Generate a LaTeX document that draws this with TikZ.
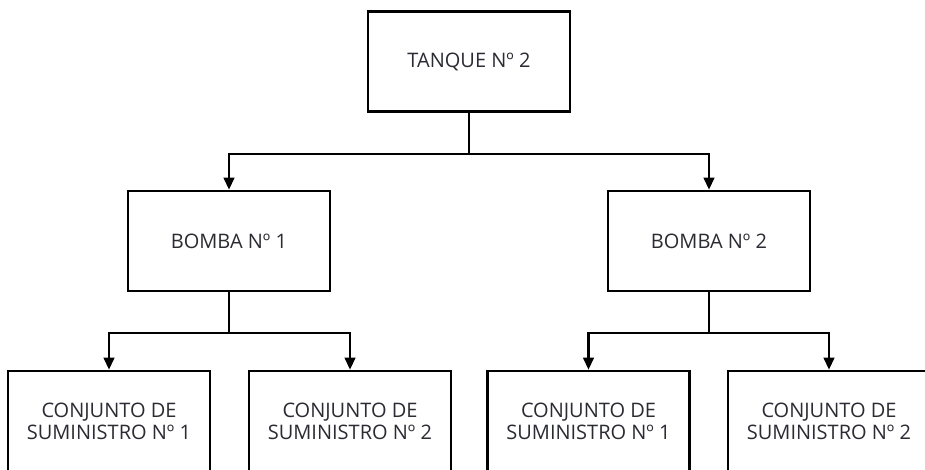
\documentclass[tikz,border=0pt]{standalone}
\usepackage{fontspec}
\setmainfont{Open Sans}
\usetikzlibrary{arrows.meta}
\definecolor{txt}{HTML}{2B2B33}
\tikzset{
  box/.style={draw=black, line width=2pt, fill=white, align=center, inner sep=0pt,
    minimum width=151.5pt, minimum height=75pt, font=\fontsize{15pt}{16.5pt}\selectfont, text=txt},
  conn/.style={draw=black, line width=1.6pt},
  arr/.style={conn, -{Triangle[width=8pt,length=9pt]}}
}
\begin{document}
\begin{tikzpicture}[x=0.75pt,y=-0.75pt]
\useasboundingbox (0,0) rectangle (925,470);
\clip (0,0) rectangle (925,470);
\fill[white] (0,0) rectangle (925,470);
\node[box] (top) at (469,61.5) {TANQUE Nº 2};
\node[box] (b1) at (229,241) {BOMBA Nº 1};
\node[box] (b2) at (709,241) {BOMBA Nº 2};
\node[box] (c1) at (109,421) {CONJUNTO DE\\SUMINISTRO Nº 1};
\node[box] (c2) at (350,421) {CONJUNTO DE\\SUMINISTRO Nº 2};
\node[box] (c3) at (588.5,421) {CONJUNTO DE\\SUMINISTRO Nº 1};
\node[box] (c4) at (829,421) {CONJUNTO DE\\SUMINISTRO Nº 2};
\coordinate (j0) at (469,154);
\coordinate (j1) at (229,333);
\coordinate (j2) at (709,333);
\draw[conn] (top.south) -- (j0);
\draw[arr] (j0) -| (b1.north);
\draw[arr] (j0) -| (b2.north);
\draw[conn] (b1.south) -- (j1);
\draw[arr] (j1) -| (c1.north);
\draw[arr] (j1) -| (c2.north);
\draw[conn] (b2.south) -- (j2);
\draw[arr] (j2) -| (c3.north);
\draw[arr] (j2) -| (c4.north);
\end{tikzpicture}
\end{document}
